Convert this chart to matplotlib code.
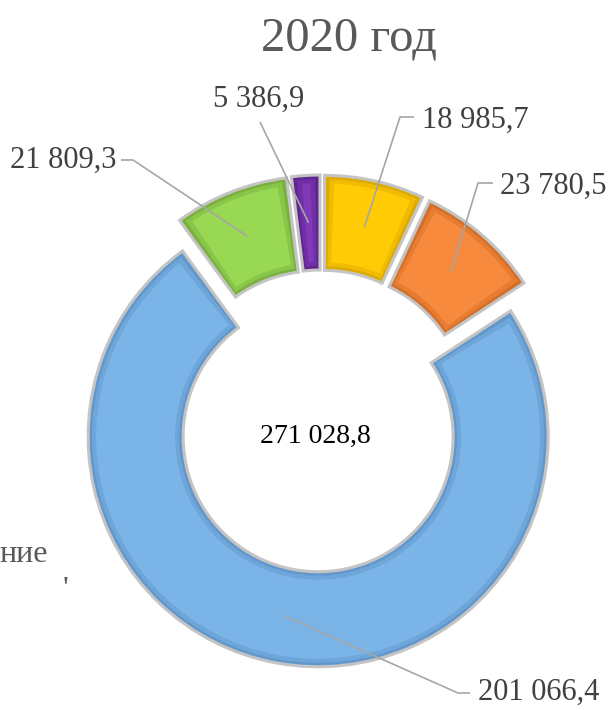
import matplotlib
matplotlib.use("Agg")
import matplotlib.pyplot as plt
from matplotlib.patches import Wedge
import numpy as np

# ---- data ----
title = "2020 год"
values = [18985.7, 23780.5, 201066.4, 21809.3, 5386.9]
value_labels = ["18 985,7", "23 780,5", "201 066,4", "21 809,3", "5 386,9"]
total_label = "271 028,8"
face_colors = ["#FFCB05", "#F78A3C", "#7BB4E7", "#98D853", "#8039B8"]
bevel_colors = ["#DDAA00", "#D46E29", "#6297CC", "#79B03E", "#5F2590"]
legend_fragment = ["ние", "'"]

W, H = 613, 710
FONT = ["Liberation Serif", "DejaVu Serif"]

fig = plt.figure(figsize=(W / 100, H / 100), dpi=100)
ax = fig.add_axes([0, 0, 1, 1])

def py(y):
    return H - y

R_OUT, RING = 230, 95
wedges, _ = ax.pie(values, radius=R_OUT, center=(321, py(421)), startangle=90,
                   counterclock=False, explode=[16] * len(values),
                   wedgeprops=dict(width=RING, linewidth=0))

BEV = 8
for w, fc, bc in zip(wedges, face_colors, bevel_colors):
    w.set_facecolor(bc)
    w.set_edgecolor("#C4C4C4")
    w.set_linewidth(2.2)
    w.set_zorder(2)
    rmid = w.r - w.width / 2
    # mid bevel layer (blend)
    db1 = np.degrees((BEV / 2) / rmid)
    mid = Wedge(w.center, w.r - BEV / 2, w.theta1 + db1, w.theta2 - db1,
                width=w.width - BEV, facecolor=fc, alpha=0.55,
                edgecolor="none", zorder=3)
    ax.add_patch(mid)
    db = np.degrees(BEV / rmid)
    inner = Wedge(w.center, w.r - BEV, w.theta1 + db, w.theta2 - db,
                  width=w.width - 2 * BEV, facecolor=fc, edgecolor="none", zorder=4)
    ax.add_patch(inner)

ax.set_xlim(0, W)
ax.set_ylim(0, H)
ax.set_aspect("equal")
ax.axis("off")

# leader lines and labels: (text x, text y, ha, hook points in px)
layout = [
    (422, 120, "left", [(400, 117), (414, 117)]),   # yellow
    (500, 186, "left", [(478, 183), (493, 183)]),   # orange
    (478, 692, "left", [(458, 693), (470, 693)]),   # blue
    (117, 160, "right", [(133, 160), (121, 160)]),  # green
    (259, 99, "center", [(260, 122)]),               # purple
]
lc = "#A6A6A6"
for w, lab, (tx, ty, ha, hook) in zip(wedges, value_labels, layout):
    ang = np.radians((w.theta1 + w.theta2) / 2)
    rmid = w.r - w.width / 2
    ex = w.center[0] + rmid * np.cos(ang)
    ey = w.center[1] + rmid * np.sin(ang)
    xs = [ex] + [p[0] for p in hook]
    ys = [ey] + [py(p[1]) for p in hook]
    ax.plot(xs, ys, color=lc, lw=1.2, zorder=5, solid_capstyle="butt")
    ax.text(tx, py(ty), lab, ha=ha, va="center", fontsize=22, color="#404040",
            family=FONT, zorder=6)

ax.text(315, py(436), total_label, ha="center", va="center", fontsize=20,
        color="black", family=FONT)
ax.text(349, py(38), title, ha="center", va="center", fontsize=35,
        color="#595959", family=FONT)
ax.text(-1, py(555), legend_fragment[0], ha="left", va="center", fontsize=23,
        color="#595959", family=FONT)
ax.text(63, py(590), legend_fragment[1], ha="left", va="center", fontsize=23,
        color="#595959", family=FONT)

fig.savefig("out.png", dpi=100)
